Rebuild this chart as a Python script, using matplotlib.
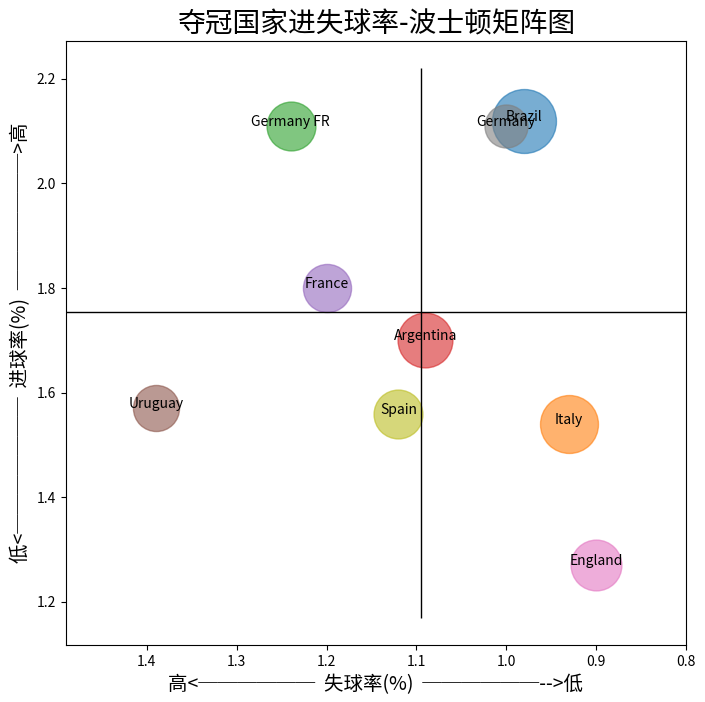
import numpy as np
import matplotlib
matplotlib.use('Agg')
import matplotlib.pyplot as plt

plt.rcParams['font.family'] = ['Noto Sans CJK SC', 'DejaVu Sans']
plt.rcParams['axes.unicode_minus'] = False

# dati: squadre campioni, gol fatti / subiti per partita
squadre = ['Brazil', 'Italy', 'Germany FR', 'Argentina', 'France',
           'Uruguay', 'England', 'Germany', 'Spain']
gol_subiti = [0.98, 0.93, 1.24, 1.09, 1.20, 1.39, 0.90, 1.00, 1.12]
gol_fatti = [2.12, 1.54, 2.11, 1.70, 1.80, 1.57, 1.27, 2.11, 1.56]
partite = [106, 87, 62, 78, 60, 55, 67, 48, 62]

media_x = np.mean(gol_subiti)
media_y = np.mean(gol_fatti)

fig = plt.figure(figsize=(7.05, 7.02), dpi=100)
ax = fig.add_axes([0.0936, 0.0812, 0.8794, 0.8604])

for i in range(len(squadre)):
    ax.scatter(gol_subiti[i], gol_fatti[i], s=partite[i] * 20,
               color='C' + str(i), alpha=0.6)
    ax.text(gol_subiti[i], gol_fatti[i], squadre[i], ha='center',
            va='baseline', fontsize=10)

ax.vlines(media_x, min(gol_fatti) - 0.1, max(gol_fatti) + 0.1,
          color='black', linewidth=1)
ax.hlines(media_y, 0.8, 1.49, color='black', linewidth=1)

ax.set_xlim(1.49, 0.8)
ax.set_xticks([1.4, 1.3, 1.2, 1.1, 1.0, 0.9, 0.8])
ax.set_yticks([1.2, 1.4, 1.6, 1.8, 2.0, 2.2])
ax.tick_params(labelsize=10)

ax.set_title('夺冠国家进失球率-波士顿矩阵图', fontsize=20)
ax.set_xlabel('高<──────  失球率(%)  ──────-->低', fontsize=14)
ax.set_ylabel('低<───────  进球率(%)  ───────>高', fontsize=14)

fig.savefig('out.png', dpi=100)
